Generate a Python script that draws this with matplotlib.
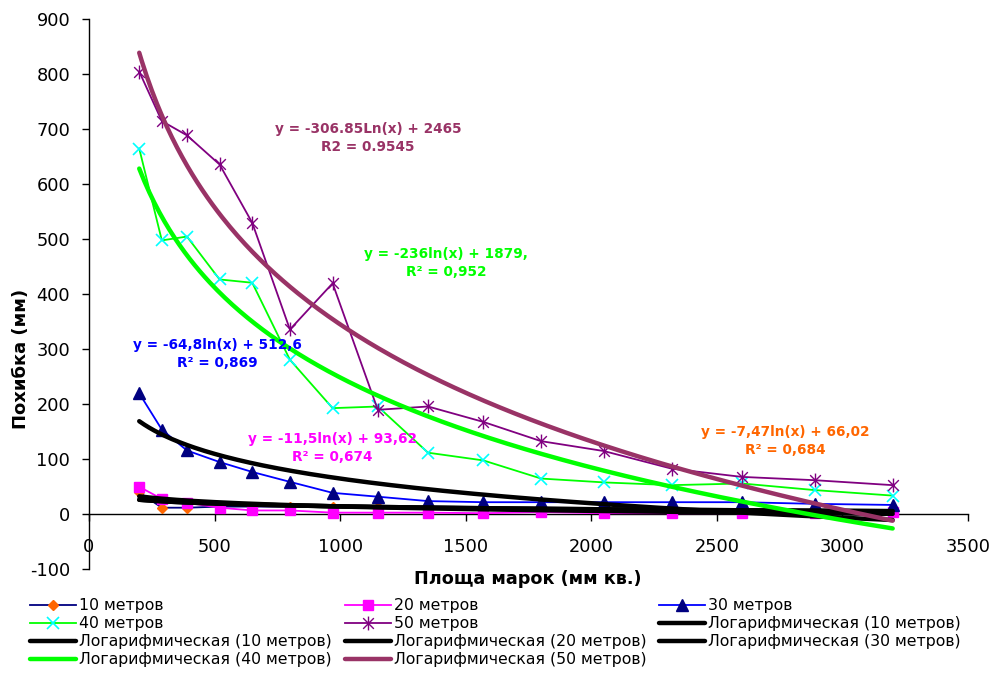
import numpy as np
import matplotlib
matplotlib.use("Agg")
import matplotlib.pyplot as plt
from matplotlib.path import Path

plt.rcParams['font.family'] = ['DejaVu Sans']
plt.rcParams['axes.unicode_minus'] = False

# ---- data ----
area = [200, 290, 390, 520, 650, 800, 970, 1150, 1350, 1570, 1800, 2050, 2320, 2600, 2890, 3200]
m10 = [40, 12, 12, 14, 14, 14, 14, 14, 10, 8, 7, 6, 6, 5, 5, 5]
m20 = [50, 28, 21, 12, 7, 7, 3, 3, 3, 2, 4, 2, 2, 2, 3, 5]
m30 = [220, 154, 116, 95, 77, 59, 39, 32, 24, 22, 22, 22, 22, 22, 19, 17]
m40 = [665, 498, 505, 427, 421, 281, 193, 196, 112, 98, 65, 58, 53, 56, 44, 34]
m50 = [805, 715, 689, 636, 530, 336, 420, 190, 196, 168, 133, 115, 83, 68, 62, 53]

# log trend coefficients (slope, intercept) as displayed
trend10 = (-7.47, 66.02)
trend20 = (-11.5, 93.62)
trend30 = (-64.8, 512.6)
trend40 = (-236.0, 1879.0)
trend50 = (-306.85, 2465.0)

eq10 = "y = -7,47ln(x) + 66,02\nR² = 0,684"
eq20 = "y = -11,5ln(x) + 93,62\nR² = 0,674"
eq30 = "y = -64,8ln(x) + 512,6\nR² = 0,869"
eq40 = "y = -236ln(x) + 1879,\nR² = 0,952"
eq50 = "y = -306.85Ln(x) + 2465\nR2 = 0.9545"

series_labels = ["10 метров", "20 метров", "30 метров", "40 метров", "50 метров"]
trend_labels = ["Логарифмическая (10 метров)", "Логарифмическая (10 метров)",
                "Логарифмическая (20 метров)", "Логарифмическая (30 метров)",
                "Логарифмическая (40 метров)", "Логарифмическая (50 метров)"]
xlabel = "Площа марок (мм кв.)"
ylabel = "Похибка (мм)"

W, H = 993, 673
fig = plt.figure(figsize=(W / 100, H / 100), dpi=100)
ax = fig.add_axes([89 / W, 1 - 569.3 / H, (968 - 89) / W, (569.3 - 19.3) / H])

star = Path([(-1, -1), (1, 1), (-1, 1), (1, -1), (0, -1.3), (0, 1.3)],
            [Path.MOVETO, Path.LINETO, Path.MOVETO, Path.LINETO, Path.MOVETO, Path.LINETO])

h10, = ax.plot(area, m10, color='#000080', lw=1.3, marker='D', ms=5,
               mfc='#FF6600', mec='#FF6600', label=series_labels[0], zorder=3)
h20, = ax.plot(area, m20, color='#FF00FF', lw=1.3, marker='s', ms=7,
               mfc='#FF00FF', mec='#FF00FF', label=series_labels[1], zorder=3)
h30, = ax.plot(area, m30, color='#0000FF', lw=1.3, marker='^', ms=8.5,
               mfc='#000080', mec='#000080', label=series_labels[2], zorder=3)
h40, = ax.plot(area, m40, color='#00FF00', lw=1.3, marker='x', ms=8.5, mew=1.2,
               mec='#00FFFF', label=series_labels[3], zorder=3)
h50, = ax.plot(area, m50, color='#800080', lw=1.3, marker=star, ms=10, mew=1.0,
               mec='#800080', label=series_labels[4], zorder=3)

xt = np.linspace(min(area), max(area), 300)
trend_specs = [(trend10, 'black'), (trend10, 'black'), (trend20, 'black'),
               (trend30, 'black'), (trend40, '#00FF00'), (trend50, '#993366')]
trend_handles = []
for (coef, col), lab in zip(trend_specs, trend_labels):
    h, = ax.plot(xt, coef[0] * np.log(xt) + coef[1], color=col, lw=3.2,
                 solid_capstyle='round', label=lab, zorder=4)
    trend_handles.append(h)

ax.set_xlim(0, 3500)
ax.set_ylim(-100, 900)
ax.set_xticks(np.arange(0, 3501, 500))
ax.set_yticks(np.arange(-100, 901, 100))
ax.spines['top'].set_visible(False)
ax.spines['right'].set_visible(False)
ax.spines['bottom'].set_position(('data', 0))
ax.spines['left'].set_linewidth(1.0)
ax.spines['bottom'].set_linewidth(1.0)
ax.tick_params(axis='both', direction='out', length=5, width=1, labelsize=12.8)
ax.tick_params(axis='x', pad=12)
ax.tick_params(axis='y', pad=8.5)

fig.text(528 / W, 1 - 579 / H, xlabel, ha='center', va='center',
         fontsize=12.7, fontweight='bold')
fig.text(21 / W, 1 - 289 / H, ylabel, ha='center', va='top', rotation=90,
         fontsize=13, fontweight='bold')

eqs = [(eq50, '#993366', 368, 138), (eq40, '#00FF00', 446, 263),
       (eq30, '#0000FF', 217, 354), (eq20, '#FF00FF', 332, 448),
       (eq10, '#FF6600', 785, 441)]
for txt, col, px, py in eqs:
    fig.text(px / W, 1 - py / H, txt, color=col, ha='center', va='center',
             fontsize=9.8, fontweight='bold', linespacing=1.3,
             multialignment='center')

A, B, C, D, E = h10, h20, h30, h40, h50
F, G, Hh, I, J, K = trend_handles
columns = [([A, D, G, J], 30), ([B, E, Hh, K], 345), ([C, F, I], 659)]
for hs, px in columns:
    fig.legend(hs, [h.get_label() for h in hs], loc='upper left',
               bbox_to_anchor=(px / W, 1 - 598 / H), ncol=1, frameon=False,
               fontsize=11.3, handlelength=2.9, handletextpad=0.2,
               labelspacing=0.2, borderpad=0, borderaxespad=0)

fig.savefig('out.png', dpi=100)
